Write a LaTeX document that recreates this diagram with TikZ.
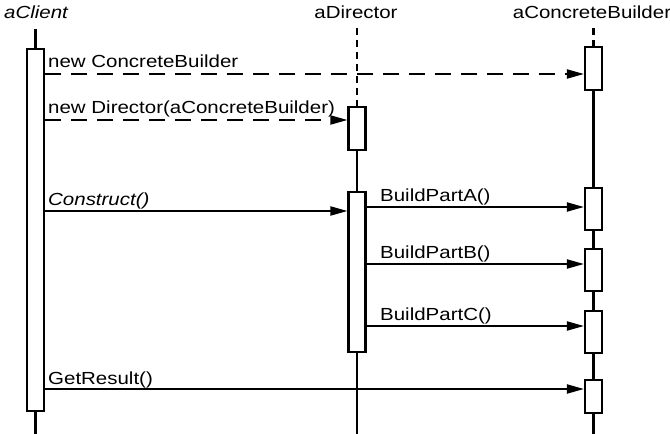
\documentclass[tikz,border=0pt]{standalone}
\usepackage{graphicx}
\usepackage{fontspec}
\setmainfont{Liberation Sans}
\usetikzlibrary{arrows.meta}
\newcommand\wtxt[1]{\scalebox{1.17}[1]{#1}}
\begin{document}
\begin{tikzpicture}[x=1pt,y=-1pt,
  lbl/.style={font=\fontsize{17.5}{20}\selectfont, inner sep=0pt, anchor=base west},
  head/.style={font=\fontsize{17.5}{20}\selectfont, inner sep=0pt, anchor=base},
  bar/.style={draw, line width=2.1pt, fill=white, minimum width=17pt, inner sep=0pt},
  life/.style={line width=2.2pt},
  lifedash/.style={line width=2.2pt, dash pattern=on 7pt off 5pt},
  msg/.style={line width=1.9pt, -{Triangle[length=17pt,width=9pt]}},
  create/.style={msg, dash pattern=on 16pt off 10pt}]
\useasboundingbox (0,0) rectangle (670,434);
% headers
\node[head] (hc) at (36,18) {\wtxt{\itshape aClient}};
\node[head] (hd) at (356,18) {\wtxt{aDirector}};
\node[head] (hb) at (592,18) {\wtxt{aConcreteBuilder}};
% lifeline ends
\coordinate (ct) at (35.5,29);
\coordinate (cbot) at (35.5,434);
\coordinate (dt) at (357,28);
\coordinate (dbot) at (357,434);
\coordinate (bt) at (593.5,28);
\coordinate (bbot) at (593.5,434);
% bars
\node[bar, minimum height=362pt] (cb) at (35.5,230) {};
\node[bar, minimum height=43pt] (d1) at (357,128.5) {};
\node[bar, minimum height=160pt] (d2) at (357,272) {};
\node[bar, minimum height=43pt] (b1) at (593.5,68.5) {};
\node[bar, minimum height=42pt] (b2) at (593.5,209) {};
\node[bar, minimum height=42pt] (b3) at (593.5,270) {};
\node[bar, minimum height=42pt] (b4) at (593.5,332) {};
\node[bar, minimum height=33pt] (b5) at (593.5,396.5) {};
% lifelines
\draw[life] (ct) -- (cb.north);
\draw[life] (cb.south) -- (cbot);
\draw[lifedash] (dt) -- (d1.north);
\draw[life] (d1.south) -- (d2.north);
\draw[life] (d2.south) -- (dbot);
\draw[lifedash] (bt) -- (b1.north);
\draw[life] (b1.south) -- (b2.north);
\draw[life] (b2.south) -- (b3.north);
\draw[life] (b3.south) -- (b4.north);
\draw[life] (b4.south) -- (b5.north);
\draw[life] (b5.south) -- (bbot);
% message levels
\coordinate (m1) at (0,74);
\coordinate (m2) at (0,120);
\coordinate (m3) at (0,211);
\coordinate (m4) at (0,207);
\coordinate (m5) at (0,264);
\coordinate (m6) at (0,326);
\coordinate (m7) at (0,389);
% messages
\draw[create] (cb.east |- m1) -- (b1.west |- m1);
\draw[create] (cb.east |- m2) -- (d1.west |- m2);
\draw[msg] (cb.east |- m3) -- (d2.west |- m3);
\draw[msg] (d2.east |- m4) -- (b2.west |- m4);
\draw[msg] (d2.east |- m5) -- (b3.west |- m5);
\draw[msg] (d2.east |- m6) -- (b4.west |- m6);
\draw[msg] (cb.east |- m7) -- (b5.west |- m7);
% labels
\node[lbl] (l1) at (48,67) {\wtxt{new ConcreteBuilder}};
\node[lbl] (l2) at (48,113) {\wtxt{new Director(aConcreteBuilder)}};
\node[lbl] (l3) at (48,205) {\wtxt{\itshape Construct()}};
\node[lbl] (l4) at (380,201) {\wtxt{BuildPartA()}};
\node[lbl] (l5) at (380,258) {\wtxt{BuildPartB()}};
\node[lbl] (l6) at (380,320) {\wtxt{BuildPartC()}};
\node[lbl] (l7) at (48,384) {\wtxt{GetResult()}};
\end{tikzpicture}
\end{document}
